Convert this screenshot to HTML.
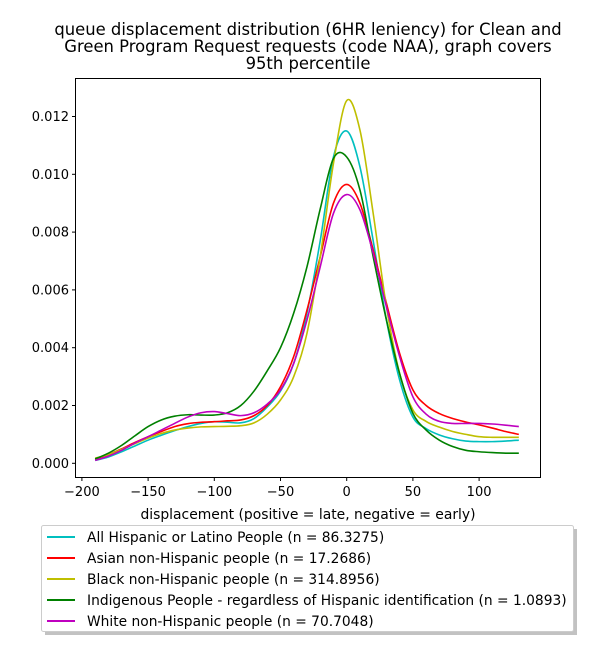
<!DOCTYPE html>
<html><head><meta charset="utf-8"><style>
body{margin:0;background:#fff}
svg text{font-family:"DejaVu Sans","Liberation Sans",sans-serif;fill:#000}
</style></head><body>
<svg id="chart" width="600" height="650" viewBox="0 0 600 650" xmlns="http://www.w3.org/2000/svg">
<rect width="600" height="650" fill="#fff"/>
<g font-size="16.4" text-anchor="middle">
<text x="308" y="35">queue displacement distribution (6HR leniency) for Clean and</text>
<text x="308" y="52">Green Program Request  requests (code NAA), graph covers</text>
<text x="308" y="69">95th percentile</text>
</g>
<g id="series"></g>
<rect x="75.5" y="78.5" width="465" height="399" fill="none" stroke="#000" stroke-width="1"/>
<g id="xticks" font-size="13" text-anchor="middle"></g>
<g id="yticks" font-size="13" text-anchor="end"></g>
<text x="308" y="519" font-size="13.9" text-anchor="middle">displacement (positive = late, negative = early)</text>
<g>
<rect x="45" y="529" width="532" height="106" fill="#999" opacity="0.6"/>
<rect x="41.5" y="525.5" width="532" height="106" rx="2" fill="#fff" stroke="#ccc"/>
<g id="legend-entries" font-size="13.8"></g>
</g>
</svg>
<script>
const xs=[-190,-180,-170,-160,-150,-140,-130,-120,-110,-100,-90,-80,-70,-60,-50,-40,-30,-20,-10,0,10,20,30,40,50,60,70,80,90,100,110,120,130];
const hispanic=[0.1,0.22,0.4,0.6,0.8,0.97,1.13,1.27,1.38,1.44,1.42,1.4,1.55,1.95,2.5,3.46,5.2,7.7,10.6,11.5,10.26,7.7,4.96,2.88,1.6,1.2,0.98,0.85,0.77,0.75,0.75,0.77,0.8];
const asian=[0.15,0.3,0.5,0.72,0.92,1.1,1.27,1.37,1.42,1.44,1.47,1.5,1.65,2.0,2.65,3.7,5.3,7.15,9.0,9.65,9.0,7.38,5.54,3.8,2.54,2.0,1.72,1.55,1.43,1.33,1.22,1.1,1.0];
const black=[0.18,0.3,0.48,0.68,0.87,1.03,1.15,1.22,1.26,1.27,1.28,1.3,1.4,1.7,2.19,3.0,4.5,7.15,10.38,12.55,11.53,8.65,5.42,3.1,1.85,1.45,1.25,1.1,1.0,0.92,0.9,0.9,0.9];
const indigenous=[0.15,0.35,0.62,0.95,1.27,1.5,1.63,1.68,1.67,1.67,1.75,2.0,2.5,3.2,4.0,5.2,6.8,8.8,10.55,10.6,9.46,7.15,4.96,3.1,1.73,1.15,0.8,0.58,0.45,0.4,0.37,0.35,0.35];
const white=[0.1,0.25,0.45,0.7,0.92,1.15,1.38,1.6,1.75,1.79,1.72,1.65,1.75,2.05,2.54,3.46,4.96,6.8,8.65,9.3,8.77,7.27,5.42,3.69,2.3,1.7,1.45,1.38,1.38,1.38,1.36,1.32,1.27];
const seriesNames=["All Hispanic or Latino People (n = 86.3275)","Asian non-Hispanic people (n = 17.2686)","Black non-Hispanic people (n = 314.8956)","Indigenous People - regardless of Hispanic identification (n = 1.0893)","White non-Hispanic people (n = 70.7048)"];
const seriesColors=["#00bfbf","#ff0000","#bfbf00","#008000","#bf00bf"];
const xTicks=[-200,-150,-100,-50,0,50,100];
const yTicks=[0,0.002,0.004,0.006,0.008,0.010,0.012];
const NS="http://www.w3.org/2000/svg";
const X=v=>346.7+1.324*v;
const Y=v=>463.3-v*28900;
function mk(t,a){const e=document.createElementNS(NS,t);for(const k in a)e.setAttribute(k,a[k]);return e;}
function pathFor(vals){
  const p=xs.map((x,i)=>[X(x),Y(vals[i]/1000)]);
  let d="M"+p[0][0]+","+p[0][1];
  for(let i=0;i<p.length-1;i++){
    const p0=p[i-1]||p[i],p1=p[i],p2=p[i+1],p3=p[i+2]||p2;
    const c1=[p1[0]+(p2[0]-p0[0])/6,p1[1]+(p2[1]-p0[1])/6];
    const c2=[p2[0]-(p3[0]-p1[0])/6,p2[1]-(p3[1]-p1[1])/6];
    d+=` C${c1[0]},${c1[1]} ${c2[0]},${c2[1]} ${p2[0]},${p2[1]}`;
  }
  return d;
}
const all=[hispanic,asian,black,indigenous,white];
const sg=document.getElementById('series');
const slugs=["hispanic","asian","black","indigenous","white"];
all.forEach((vals,i)=>{
  const el=mk('path',{d:pathFor(vals),fill:'none',stroke:seriesColors[i],'stroke-width':1.6});
  
  
  sg.appendChild(el);
});
const xt=document.getElementById('xticks');
xTicks.forEach(t=>{
  const g=mk('g',{});
  
  
  g.appendChild(mk('line',{x1:X(t),x2:X(t),y1:477.5,y2:481,stroke:'#000'}));
  const tx=mk('text',{x:X(t),y:496});tx.textContent=t<0?'\u2212'+Math.abs(t):String(t);
  g.appendChild(tx);xt.appendChild(g);
});
const yt=document.getElementById('yticks');
yTicks.forEach(t=>{
  const g=mk('g',{});
  
  
  g.appendChild(mk('line',{x1:72,x2:75.5,y1:Y(t),y2:Y(t),stroke:'#000'}));
  const tx=mk('text',{x:69,y:Y(t)+4.5});tx.textContent=t.toFixed(3);
  g.appendChild(tx);yt.appendChild(g);
});
const lg=document.getElementById('legend-entries');
seriesNames.forEach((n,i)=>{
  const y=537+i*21;
  const g=mk('g',{});
  
  
  g.appendChild(mk('line',{x1:47,x2:75,y1:y,y2:y,stroke:seriesColors[i],'stroke-width':2}));
  const tx=mk('text',{x:87,y:y+5});tx.textContent=n;
  g.appendChild(tx);lg.appendChild(g);
});
</script>
</body></html>
